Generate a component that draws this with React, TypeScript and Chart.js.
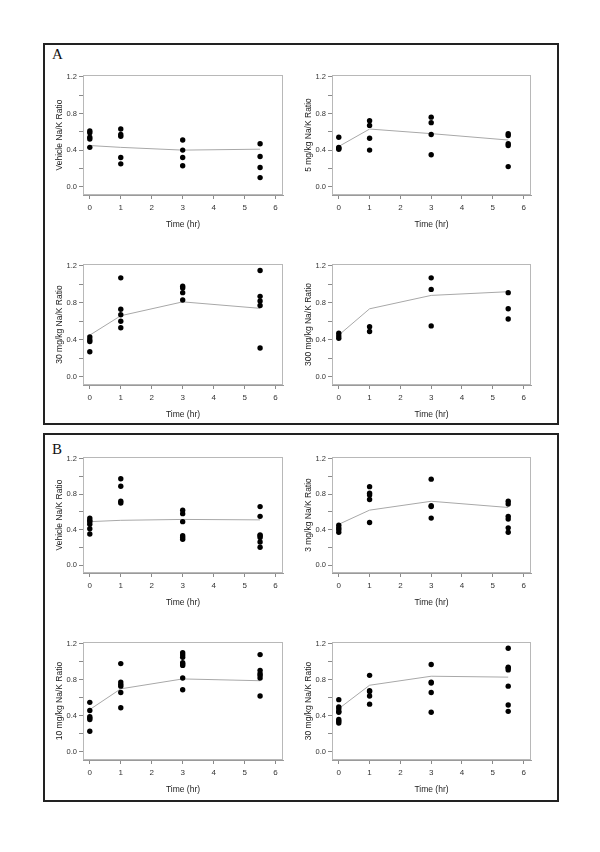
import React, { useEffect, useRef } from 'react';
import { Chart, registerables } from 'chart.js';
Chart.register(...registerables);

// ---------- data ----------
const times = [0, 1, 3, 5.5];
const xTickValues = [0, 1, 2, 3, 4, 5, 6];
const yTickValues = [0, 0.2, 0.4, 0.6, 0.8, 1.0, 1.2];
const yLabelValues = [0, 0.4, 0.8, 1.2];
const xTitle = 'Time (hr)';

// Panel A
const aVehicleTitle = 'Vehicle Na/K Ratio';
const aVehiclePoints = [[0.61, 0.59, 0.54, 0.52, 0.43], [0.63, 0.57, 0.55, 0.32, 0.25], [0.51, 0.40, 0.32, 0.23], [0.47, 0.33, 0.21, 0.10]];
const aVehicleLine = [0.45, 0.43, 0.40, 0.41];

const a5Title = '5 mg/kg Na/K Ratio';
const a5Points = [[0.54, 0.43, 0.42, 0.41], [0.72, 0.67, 0.53, 0.40], [0.76, 0.70, 0.57, 0.35], [0.58, 0.56, 0.47, 0.45, 0.22]];
const a5Line = [0.44, 0.63, 0.58, 0.51];

const a30Title = '30 mg/kg Na/K Ratio';
const a30Points = [[0.43, 0.40, 0.38, 0.27], [1.07, 0.73, 0.67, 0.60, 0.53], [0.98, 0.96, 0.91, 0.83], [1.15, 0.87, 0.82, 0.77, 0.31]];
const a30Line = [0.45, 0.66, 0.81, 0.74];

const a300Title = '300 mg/kg Na/K Ratio';
const a300Points = [[0.47, 0.44, 0.415], [0.54, 0.49], [1.07, 0.945, 0.55], [0.91, 0.735, 0.625]];
const a300Line = [0.45, 0.735, 0.88, 0.92];

// Panel B
const bVehicleTitle = 'Vehicle Na/K Ratio';
const bVehiclePoints = [[0.53, 0.505, 0.49, 0.46, 0.41, 0.35], [0.975, 0.89, 0.72, 0.70], [0.62, 0.58, 0.49, 0.33, 0.31, 0.29], [0.66, 0.55, 0.34, 0.33, 0.31, 0.26, 0.20]];
const bVehicleLine = [0.49, 0.505, 0.515, 0.51];

const b3Title = '3 mg/kg Na/K Ratio';
const b3Points = [[0.45, 0.42, 0.40, 0.37], [0.885, 0.81, 0.79, 0.74, 0.48], [0.97, 0.67, 0.66, 0.53], [0.72, 0.69, 0.55, 0.52, 0.42, 0.37]];
const b3Line = [0.46, 0.62, 0.72, 0.65];

const b10Title = '10 mg/kg Na/K Ratio';
const b10Points = [[0.55, 0.46, 0.39, 0.375, 0.36, 0.23], [0.98, 0.775, 0.75, 0.73, 0.66, 0.49], [1.10, 1.075, 1.05, 0.99, 0.975, 0.96, 0.82, 0.69], [1.08, 0.905, 0.87, 0.85, 0.82, 0.62]];
const b10Line = [0.47, 0.70, 0.81, 0.79];

const b30Title = '30 mg/kg Na/K Ratio';
const b30Points = [[0.58, 0.50, 0.48, 0.45, 0.44, 0.36, 0.34, 0.32], [0.85, 0.68, 0.67, 0.62, 0.53], [0.97, 0.775, 0.765, 0.66, 0.44], [1.15, 0.94, 0.93, 0.91, 0.73, 0.52, 0.45]];
const b30Line = [0.48, 0.74, 0.84, 0.83];

// ---------- layout ----------
const YW = 36; // y scale width
const XH = 38; // x scale height
const TP = 8;
const RP = 8;
const FONT = "'Liberation Sans', Arial, sans-serif";

const framePlugin = {
  id: 'frame',
  beforeDatasetsDraw(chart: any) {
    const { ctx, chartArea } = chart;
    ctx.save();
    ctx.strokeStyle = '#b8b8b8';
    ctx.lineWidth = 1;
    ctx.strokeRect(
      Math.round(chartArea.left) + 0.5,
      Math.round(chartArea.top) + 0.5,
      Math.round(chartArea.right - chartArea.left) - 1,
      Math.round(chartArea.bottom - chartArea.top) - 1
    );
    ctx.restore();
  },
};

type SubProps = {
  L: number; R: number; T: number; B: number;
  title: string; points: number[][]; line: number[];
};

function SubPlot({ L, R, T, B, title, points, line }: SubProps) {
  const ref = useRef<HTMLCanvasElement>(null);
  const width = R - L + YW + RP;
  const height = B - T + TP + XH;
  useEffect(() => {
    if (!ref.current) return;
    const scatter: { x: number; y: number }[] = [];
    points.forEach((arr, i) => arr.forEach((v) => scatter.push({ x: times[i], y: v })));
    const lineData = times.map((t, i) => ({ x: t, y: line[i] }));
    const chart = new Chart(ref.current, {
      type: 'scatter',
      data: {
        datasets: [
          {
            data: scatter,
            backgroundColor: '#000',
            borderColor: '#000',
            borderWidth: 0,
            pointRadius: 2.7,
            order: 1,
          } as any,
          {
            data: lineData,
            showLine: true,
            borderColor: '#a8a8a8',
            borderWidth: 1,
            pointRadius: 0,
            fill: false,
            tension: 0,
            order: 2,
          } as any,
        ],
      },
      options: {
        responsive: false,
        maintainAspectRatio: false,
        animation: false,
        layout: { padding: { top: TP, right: RP, left: 0, bottom: 0 } },
        plugins: { legend: { display: false }, tooltip: { enabled: false } },
        scales: {
          x: {
            type: 'linear',
            min: -0.22,
            max: 6.24,
            afterBuildTicks: (s: any) => { s.ticks = xTickValues.map((v) => ({ value: v })); },
            afterFit: (s: any) => { s.height = XH; },
            grid: { drawOnChartArea: false, drawTicks: true, tickLength: 4, color: '#8a8a8a', lineWidth: 1 },
            border: { display: true, color: '#9a9a9a', width: 1 },
            ticks: {
              autoSkip: false, maxRotation: 0, padding: 4, color: '#333',
              font: { family: FONT, size: 8 },
              callback: (v: any) => String(v),
            },
            title: { display: true, text: xTitle, color: '#222', font: { family: FONT, size: 8.5 }, padding: { top: 0, bottom: 3 } },
          },
          y: {
            type: 'linear',
            min: -0.09,
            max: 1.22,
            afterBuildTicks: (s: any) => { s.ticks = yTickValues.map((v) => ({ value: v })); },
            afterFit: (s: any) => { s.width = YW; },
            grid: { drawOnChartArea: false, drawTicks: true, tickLength: 4, color: '#8a8a8a', lineWidth: 1 },
            border: { display: true, color: '#9a9a9a', width: 1 },
            ticks: {
              autoSkip: false, padding: 2, color: '#333',
              font: { family: FONT, size: 7.5 },
              callback: (v: any) => (yLabelValues.some((t) => Math.abs(t - v) < 1e-6) ? Number(v).toFixed(1) : ''),
            },
            title: { display: true, text: title, color: '#222', font: { family: FONT, size: 8.5 }, padding: { top: 8, bottom: 0 } },
          },
        },
      } as any,
      plugins: [framePlugin],
    });
    return () => chart.destroy();
  }, []);
  return (
    <canvas
      ref={ref}
      width={width}
      height={height}
      style={{ position: 'absolute', left: L - YW, top: T - TP, width, height }}
    />
  );
}

const plots: SubProps[] = [
  { L: 83, R: 283, T: 75, B: 195, title: aVehicleTitle, points: aVehiclePoints, line: aVehicleLine },
  { L: 332, R: 531, T: 75, B: 195, title: a5Title, points: a5Points, line: a5Line },
  { L: 83, R: 283, T: 264, B: 385, title: a30Title, points: a30Points, line: a30Line },
  { L: 332, R: 531, T: 264, B: 385, title: a300Title, points: a300Points, line: a300Line },
  { L: 83, R: 283, T: 457, B: 573, title: bVehicleTitle, points: bVehiclePoints, line: bVehicleLine },
  { L: 332, R: 531, T: 457, B: 573, title: b3Title, points: b3Points, line: b3Line },
  { L: 83, R: 283, T: 642, B: 760, title: b10Title, points: b10Points, line: b10Line },
  { L: 332, R: 531, T: 642, B: 760, title: b30Title, points: b30Points, line: b30Line },
];

export default function App() {
  const boxStyle = (top: number, height: number): React.CSSProperties => ({
    position: 'absolute', left: 43, top, width: 516, height,
    border: '2px solid #222', boxSizing: 'border-box',
  });
  const letterStyle = (top: number): React.CSSProperties => ({
    position: 'absolute', left: 52, top, fontFamily: "'Liberation Serif', 'Times New Roman', serif",
    fontSize: 15, color: '#111', lineHeight: '15px',
  });
  return (
    <div style={{ position: 'absolute', left: 0, top: 0, width: 600, height: 852, background: '#fff' }}>
      <div style={boxStyle(43, 382)} />
      <div style={boxStyle(433, 369)} />
      <div style={letterStyle(47)}>A</div>
      <div style={letterStyle(442)}>B</div>
      {plots.map((p, i) => (
        <SubPlot key={i} {...p} />
      ))}
    </div>
  );
}
